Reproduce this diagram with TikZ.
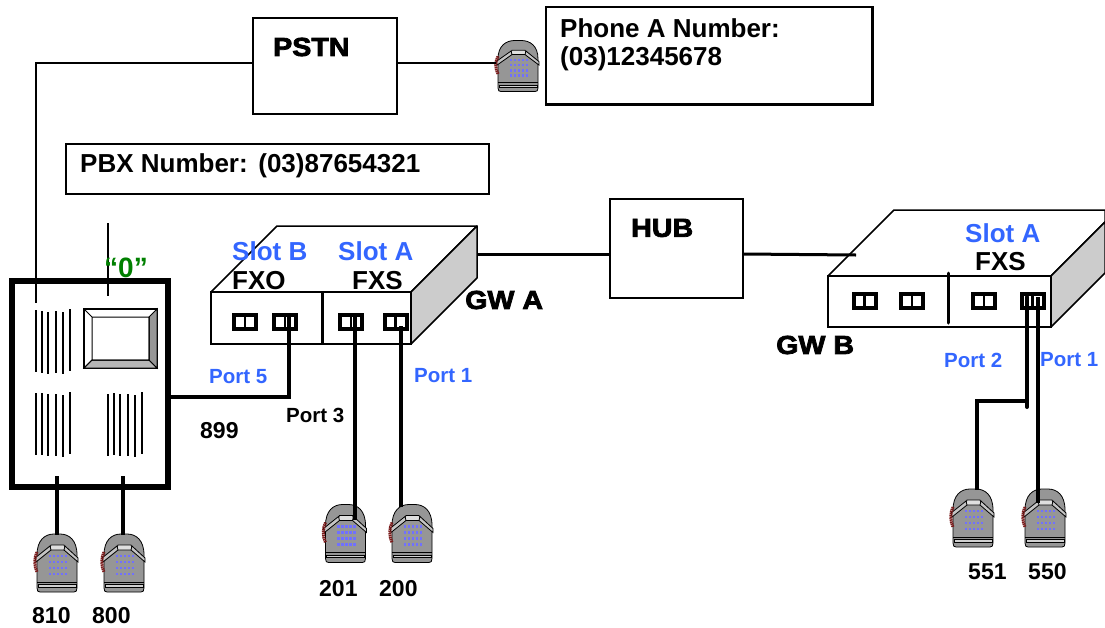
\documentclass[tikz,border=0pt]{standalone}
\usepackage{fontspec}
\setmainfont{Liberation Sans}[BoldFont={Liberation Sans Bold}]
\newfontfamily\heavyfont{Liberation Sans Bold}[FakeBold=3,FakeStretch=1.1]
\usetikzlibrary{calc}
\definecolor{slotblue}{HTML}{3366FF}
\definecolor{zero}{HTML}{008000}
\definecolor{phonegray}{HTML}{969696}
\definecolor{sidegray}{HTML}{CCCCCC}
\definecolor{keyblue}{HTML}{7070FF}
\definecolor{cordred}{HTML}{7A1A1A}
\tikzset{
  x=1pt,y=-1pt,
  box/.style={draw=black,line width=1.5pt,fill=white,inner sep=0pt,anchor=north west},
  lbl/.style={font=\fontsize{26}{28}\selectfont\bfseries,anchor=west,inner sep=0pt},
  slot/.style={lbl,text=slotblue},
  portlbl/.style={lbl,text=slotblue,font=\fontsize{20.5}{22}\selectfont\bfseries},
  extlbl/.style={lbl,font=\fontsize{23}{25}\selectfont\bfseries},
  heavy/.style={lbl,font=\fontsize{26}{28}\heavyfont},
  portbox/.style={draw=black,line width=4pt,minimum width=22pt,minimum height=14pt,inner sep=0pt,
    path picture={\draw[line width=2.5pt] (path picture bounding box.north) -- (path picture bounding box.south);}},
  wire/.style={draw=black,line width=3pt},
  dropwire/.style={draw=black,line width=4pt},
  thinwire/.style={draw=black,line width=1.3pt},
  vent/.style={draw=black,line width=1.6pt},
  phoneslot/.style={inner sep=0pt,minimum width=43pt,minimum height=58pt},
  telephone/.pic={
    \draw[fill=phonegray,line width=0.8pt] (-20,-8) .. controls (-20,-23) and (-12,-29) .. (-3,-29)
       -- (3,-29) .. controls (12,-29) and (20,-23) .. (20,-8) -- (20,25) .. controls (20,28) and (19,29) .. (17,29)
       -- (-17,29) .. controls (-19,29) and (-20,28) .. (-20,25) -- cycle;
    \draw[line width=1pt] (-20,19) -- (20,19);
    \draw[line width=0.6pt,fill=phonegray!45] (-19,21.5) -- (19,21.5) -- (19,24) -- (-19,24) -- cycle;
    \draw[line width=0.8pt,fill=white!70!phonegray] (-6,-18) -- (7,-18) -- (9,-13) -- (-8,-13) -- cycle;
    \draw[line width=0.8pt,fill=white!45!phonegray] (-7,-17) -- (-22,-5) -- (-21,-1) -- (-6,-13) -- cycle;
    \draw[line width=0.8pt,fill=white!45!phonegray] (8,-17) -- (21,-5) -- (21,-1) -- (7,-13) -- cycle;
    \foreach \yy in {-7,-1,5,11} \foreach \xx in {-7,-3,1,5,9}
      \fill[keyblue] (\xx-1.3,\yy-1.4) rectangle (\xx+1.3,\yy+1.4);
    \draw[cordred,line width=3pt,dash pattern=on 1.5pt off 0.6pt] (-20,-11) .. controls (-23,-5) and (-23,3) .. (-20,9);
  }
}
\begin{document}
\begin{tikzpicture}
\useasboundingbox[fill=white] (0,0) rectangle (1105,627);

% boxes
\node[box,minimum width=144pt,minimum height=96pt] (pstn) at (252,17) {};
\node[heavy] at (273,47) {PSTN};
\node[box,minimum width=326pt,minimum height=97pt] (phonea) at (545,6) {};
\draw[line width=3pt] (phonea.north east) -- (phonea.south east) -- (phonea.south west);
\node[lbl] at (560,28) {Phone A Number:};
\node[lbl] at (560,59) {(03)12345678};
\node[box,minimum width=423pt,minimum height=50pt] (pbxnum) at (65,143) {};
\node[lbl] at (80,166) {PBX Number:\kern1pt{} (03)87654321};
\node[box,minimum width=133pt,minimum height=99pt] (hub) at (609,198) {};
\node[heavy] at (631,228) {HUB};

% phones
\foreach \nm/\px/\py/\sy in {pa/518/66/0.88,p810/57/563/1,p800/124/563/1,p201/345.5/533.5/1,p200/412/533.5/1,p551/973/518/1,p550/1045/518/1}{
  \node[phoneslot,yscale=\sy] (\nm) at (\px,\py) {};
  \pic[yscale=\sy] at (\nm) {telephone};
}

% PBX
\node[draw=black,line width=5.5pt,fill=white,minimum width=156pt,minimum height=206pt,inner sep=0pt] (pbx) at (90,384) {};
\fill[white,draw=black,line width=1.3pt] (84,309) rectangle (157,368);
\fill[phonegray!70,draw=black,line width=1pt] (84,368) -- (92,360) -- (149,360) -- (157,368) -- cycle;
\fill[phonegray,draw=black,line width=1pt] (157,309) -- (149,317) -- (149,360) -- (157,368) -- cycle;
\draw[line width=1pt] (84,309) -- (92,317) rectangle (149,360);
\draw[line width=1pt] (84,368) -- (92,360);
\foreach \vx/\vy in {36/310,42/311,48/312,56/311,63/312,70/309,
                     36/393,42/393,48/394,56/394,63/395,70/392,
                     108/394,114/393,120/394,128/394,135/395,142/392}
  \draw[vent] (\vx,\vy) -- (\vx,\vy+62);

% GW A
\fill[white,draw=black,line width=1.5pt,line join=round] (211,292) -- (277,226) -- (477,226) -- (411,292) -- cycle;
\fill[sidegray,draw=black,line width=1.5pt,line join=round] (411,292) -- (477,226) -- (477,278) -- (411,344) -- cycle;
\node[draw=black,line width=1.5pt,fill=white,minimum width=200pt,minimum height=52pt,inner sep=0pt] (gwa) at (311,318) {};
\draw[line width=3pt] (322,292) -- (322,344);
\node[portbox] (a1) at (245,322) {};
\node[portbox] (a2) at (285,322) {};
\node[portbox] (a3) at (351,322) {};
\node[portbox] (a4) at (395.5,322) {};
\node[slot] at (232,251) {Slot B};
\node[slot] at (338,251) {Slot A};
\node[lbl] at (232,281) {FXO};
\node[lbl] at (352,281) {FXS};
\node[heavy] at (465,300) {GW A};

% GW B
\fill[white,draw=black,line width=1.5pt,line join=round] (828,276) -- (894,210) -- (1105,210) -- (1105,222) -- (1051,276) -- cycle;
\fill[sidegray,draw=black,line width=1.5pt,line join=round] (1051,276) -- (1105,222) -- (1105,273) -- (1051,327) -- cycle;
\node[draw=black,line width=1.5pt,fill=white,minimum width=223pt,minimum height=51pt,inner sep=0pt] (gwb) at (939.5,301.5) {};
\draw[line width=3pt,line cap=round] (948,273) -- (948,323);
\node[portbox] (b1) at (864.5,301) {};
\node[portbox] (b2) at (912,301) {};
\node[portbox] (b3) at (984,301) {};
\node[portbox] (b4) at (1032.5,301) {};
\node[slot] at (965,233) {Slot A};
\node[lbl] at (975,262) {FXS};
\node[heavy] at (776,345) {GW B};

% named wire ends
\coordinate (pbxin) at (36,303);
\coordinate (pbxstub) at (108,223);
\coordinate (pbxstubend) at (108,296);
\coordinate (gwaout) at (477,254);
\coordinate (gwbin) at (856,255);
\coordinate (a2w) at (289,317);
\coordinate (a3w) at (355,317);
\coordinate (a4w) at (401,326);
\coordinate (b4l) at (1027,297);
\coordinate (b4r) at (1038,297);
\coordinate (bjoin) at (1027,407);
\coordinate (bturn) at (1027,401);
\coordinate (p201top) at (355,520);
\coordinate (p200top) at (401,507);
\coordinate (p550top) at (1038,503);
\coordinate (p551top) at (977,490);
\coordinate (s810) at (56.5,476);
\coordinate (s800) at (122.7,476);
\coordinate (t810) at (56.5,535);
\coordinate (t800) at (122.7,535);

% connectors
\draw[thinwire] (pstn.east |- 0,63) -- (pa.west |- 0,63);
\draw[thinwire] (pstn.west |- 0,63) -| (pbxin);
\draw[thinwire] (pbxstub) -- (pbxstubend);
\draw[wire] (gwaout) -- (hub.west |- gwaout);
\draw[wire] (hub.east |- gwaout) -- (gwbin);
\draw[wire,line width=3.5pt] (pbx.east |- 0,397) -| (a2w);
\draw[dropwire] (a3w) -- (p201top);
\draw[dropwire] (a4w) -- (p200top);
\draw[dropwire,line cap=round] (bjoin) -- (b4l);
\draw[dropwire] (bturn) -| (p551top);
\draw[dropwire] (b4r) -- (p550top);
\draw[dropwire] (s810) -- (t810);
\draw[dropwire] (s800) -- (t800);

% labels
\node[lbl,text=zero,font=\fontsize{28}{30}\selectfont\bfseries] at (104,268) {“0”};
\node[portlbl] at (209,377) {Port 5};
\node[portlbl] at (414,376) {Port 1};
\node[portlbl,text=black] at (286,415) {Port 3};
\node[portlbl] at (944,360) {Port 2};
\node[portlbl] at (1040,360) {Port 1};
\node[extlbl] at (200,431) {899};
\node[extlbl] at (32,615.5) {810};
\node[extlbl] at (92,615.5) {800};
\node[extlbl] at (319,589) {201};
\node[extlbl] at (379,589) {200};
\node[extlbl] at (968,572) {551};
\node[extlbl] at (1028,572) {550};
\end{tikzpicture}
\end{document}
